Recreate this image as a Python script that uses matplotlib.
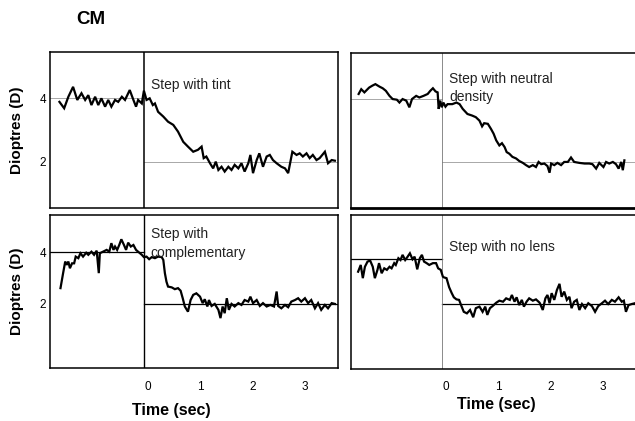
import matplotlib
matplotlib.use("Agg")
import matplotlib.pyplot as plt
from matplotlib.transforms import ScaledTranslation

plt.rcParams['font.family'] = ['Liberation Sans', 'DejaVu Sans']

# --- data (time in sec, accommodation in dioptres) ---
tint_t = [-1.61, -1.52, -1.44, -1.35, -1.27, -1.19, -1.12, -1.06, -1.00, -0.93, -0.87, -0.81, -0.74, -0.68,
          -0.62, -0.55, -0.49, -0.42, -0.36, -0.27, -0.20, -0.15, -0.11, -0.04, 0.00, 0.05, 0.11, 0.17, 0.21,
          0.27, 0.37, 0.46, 0.56, 0.65, 0.75, 0.84, 0.94, 1.03, 1.10, 1.14, 1.19, 1.26, 1.32, 1.37, 1.42, 1.48,
          1.54, 1.61, 1.67, 1.73, 1.80, 1.86, 1.92, 1.99, 2.03, 2.08, 2.15, 2.20, 2.27, 2.34, 2.40, 2.46, 2.53,
          2.62, 2.69, 2.75, 2.83, 2.91, 2.97, 3.03, 3.10, 3.16, 3.22, 3.29, 3.35, 3.45, 3.51, 3.58, 3.64]
tint_d = [3.88, 3.68, 4.04, 4.35, 3.94, 4.15, 3.94, 4.09, 3.78, 4.04, 3.78, 3.99, 3.73, 3.94, 3.73, 3.94, 3.88,
          4.04, 3.94, 4.25, 3.94, 3.73, 3.94, 3.83, 4.23, 3.94, 3.99, 3.78, 3.83, 3.57, 3.42, 3.26, 3.16, 2.95,
          2.63, 2.48, 2.32, 2.38, 2.48, 2.12, 2.17, 1.96, 1.80, 2.01, 1.75, 1.85, 1.70, 1.85, 1.75, 1.91, 1.80,
          1.96, 1.70, 1.96, 2.22, 1.65, 2.06, 2.27, 1.85, 2.17, 2.22, 2.06, 1.96, 1.85, 1.80, 1.65, 2.32, 2.22,
          2.27, 2.17, 2.27, 2.12, 2.22, 2.06, 2.12, 2.32, 1.96, 2.06, 2.04]

nd_t = [-1.60, -1.55, -1.49, -1.40, -1.34, -1.28, -1.20, -1.14, -1.08, -1.01, -0.95, -0.87, -0.82, -0.76,
        -0.69, -0.63, -0.58, -0.50, -0.44, -0.36, -0.28, -0.23, -0.18, -0.13, -0.09, -0.07, -0.04, -0.01, 0.02,
        0.06, 0.10, 0.19, 0.27, 0.33, 0.39, 0.48, 0.57, 0.64, 0.71, 0.76, 0.80, 0.87, 0.93, 0.98, 1.03, 1.09,
        1.14, 1.19, 1.23, 1.28, 1.34, 1.41, 1.47, 1.54, 1.60, 1.66, 1.73, 1.79, 1.84, 1.89, 1.95, 2.01, 2.05,
        2.08, 2.14, 2.20, 2.27, 2.33, 2.40, 2.46, 2.52, 2.62, 2.72, 2.81, 2.87, 2.94, 3.00, 3.08, 3.13, 3.19,
        3.26, 3.32, 3.37, 3.42, 3.45, 3.48]
nd_d = [4.15, 4.30, 4.20, 4.35, 4.41, 4.46, 4.38, 4.33, 4.25, 4.09, 3.99, 3.97, 3.88, 3.99, 3.94, 3.73, 3.99,
        4.09, 4.04, 4.09, 4.15, 4.25, 4.33, 4.23, 4.20, 3.68, 3.94, 3.73, 3.88, 3.75, 3.83, 3.83, 3.88, 3.83,
        3.68, 3.52, 3.47, 3.42, 3.31, 3.13, 3.23, 3.21, 3.05, 2.90, 2.69, 2.53, 2.60, 2.48, 2.32, 2.27, 2.17,
        2.12, 2.04, 1.98, 1.91, 1.85, 1.91, 1.85, 2.01, 1.94, 1.96, 1.88, 1.67, 1.96, 1.91, 1.98, 1.91, 2.01,
        2.01, 2.15, 2.01, 1.98, 1.96, 1.96, 1.94, 1.80, 1.98, 1.85, 2.01, 1.96, 2.01, 1.94, 1.80, 2.01, 1.75,
        2.06]

comp_t = [-1.59, -1.54, -1.50, -1.47, -1.44, -1.41, -1.37, -1.33, -1.30, -1.25, -1.21, -1.16, -1.10, -1.06,
          -1.00, -0.95, -0.90, -0.86, -0.84, -0.78, -0.71, -0.66, -0.62, -0.58, -0.55, -0.51, -0.47, -0.43,
          -0.38, -0.34, -0.30, -0.25, -0.20, -0.15, -0.11, -0.04, 0.00, 0.05, 0.10, 0.15, 0.21, 0.27, 0.34,
          0.37, 0.40, 0.43, 0.46, 0.53, 0.59, 0.65, 0.70, 0.74, 0.78, 0.84, 0.89, 0.94, 1.00, 1.07, 1.12, 1.16,
          1.21, 1.24, 1.29, 1.35, 1.42, 1.46, 1.50, 1.54, 1.58, 1.62, 1.67, 1.73, 1.80, 1.86, 1.92, 1.99, 2.03,
          2.08, 2.15, 2.21, 2.27, 2.34, 2.41, 2.48, 2.53, 2.56, 2.62, 2.69, 2.75, 2.81, 2.88, 2.94, 3.00, 3.07,
          3.13, 3.19, 3.26, 3.32, 3.38, 3.45, 3.51, 3.58, 3.64]
comp_d = [2.61, 3.19, 3.64, 3.51, 3.64, 3.38, 3.57, 3.57, 3.83, 3.77, 3.96, 3.83, 3.98, 3.90, 4.02, 3.90, 4.06,
          3.19, 3.96, 4.02, 4.09, 4.02, 4.35, 4.09, 4.22, 4.09, 4.28, 4.50, 4.28, 4.09, 4.37, 4.22, 4.28, 4.09,
          4.02, 3.90, 3.81, 3.83, 3.73, 3.81, 3.77, 3.83, 3.81, 3.70, 3.19, 2.86, 2.67, 2.64, 2.57, 2.61, 2.51,
          2.22, 1.90, 1.70, 2.15, 2.35, 2.41, 2.28, 2.03, 2.18, 1.90, 2.15, 1.92, 2.00, 1.77, 1.45, 1.90, 1.64,
          2.22, 1.77, 2.00, 1.90, 2.03, 1.96, 2.15, 2.09, 2.28, 2.03, 2.15, 1.92, 2.03, 1.90, 1.96, 1.90, 2.48,
          1.92, 1.83, 1.96, 1.87, 2.09, 2.15, 2.22, 2.09, 2.22, 2.03, 2.15, 1.83, 2.03, 1.77, 1.96, 1.83, 2.03,
          2.00]

nolens_t = [-1.61, -1.56, -1.52, -1.48, -1.43, -1.38, -1.33, -1.29, -1.24, -1.21, -1.16, -1.11, -1.06, -1.01,
            -0.97, -0.92, -0.89, -0.84, -0.80, -0.76, -0.71, -0.67, -0.62, -0.57, -0.53, -0.48, -0.43, -0.39,
            -0.35, -0.30, -0.25, -0.18, -0.12, -0.08, -0.03, 0.01, 0.03, 0.08, 0.13, 0.18, 0.22, 0.27, 0.32,
            0.37, 0.41, 0.47, 0.53, 0.59, 0.64, 0.71, 0.77, 0.82, 0.86, 0.91, 0.96, 1.03, 1.09, 1.16, 1.22,
            1.29, 1.33, 1.38, 1.42, 1.47, 1.52, 1.56, 1.61, 1.66, 1.73, 1.79, 1.86, 1.92, 1.97, 2.01, 2.05,
            2.09, 2.14, 2.19, 2.24, 2.28, 2.33, 2.38, 2.43, 2.47, 2.52, 2.57, 2.62, 2.67, 2.73, 2.79, 2.86,
            2.92, 2.98, 3.05, 3.11, 3.17, 3.24, 3.30, 3.37, 3.43, 3.47, 3.51, 3.56, 3.62, 3.68]
nolens_d = [3.26, 3.52, 3.01, 3.45, 3.65, 3.69, 3.45, 3.01, 3.33, 3.59, 3.20, 3.39, 3.33, 3.45, 3.39, 3.59,
            3.52, 3.78, 3.71, 3.91, 3.71, 3.82, 3.97, 3.74, 3.84, 3.35, 3.78, 3.91, 3.65, 3.59, 3.52, 3.59,
            3.59, 3.39, 3.33, 3.07, 3.04, 3.01, 2.66, 2.43, 2.27, 2.19, 2.17, 1.91, 1.71, 1.65, 1.78, 1.50,
            1.85, 1.91, 1.71, 1.91, 1.59, 1.85, 1.93, 2.06, 2.14, 2.10, 2.23, 2.17, 2.36, 2.10, 2.27, 1.97,
            2.17, 1.91, 2.10, 2.23, 2.14, 2.19, 2.06, 1.78, 2.23, 2.36, 2.04, 2.43, 2.17, 2.55, 2.79, 2.29,
            2.49, 2.17, 2.29, 1.85, 2.10, 2.17, 1.78, 2.01, 1.85, 2.04, 1.93, 1.71, 1.93, 2.04, 2.14, 2.01,
            2.17, 2.10, 2.27, 2.10, 2.14, 1.71, 1.97, 2.01, 2.04]

# stimulus levels before / after the step
levels = {'tint': (4.0, 2.0), 'nd': (4.0, 2.0), 'comp': (4.0, 2.0), 'nolens': (3.75, 2.0)}
labels = {'tint': 'Step with tint', 'nd': 'Step with neutral\ndensity',
          'comp': 'Step with\ncomplementary', 'nolens': 'Step with no lens'}
time_ticks = [0, 1, 2, 3]
dioptre_ticks = [2, 4]

W, H = 635, 421
fig = plt.figure(figsize=(W / 100, H / 100), dpi=100)


def px_axes(x0, x1, y0, y1):
    # axes from pixel box (top-left origin)
    return fig.add_axes([x0 / W, 1 - y1 / H, (x1 - x0) / W, (y1 - y0) / H])


def draw_panel(ax, t, d, key, ref_color, ref_lw, vcolor, vlw, text_y):
    xmin, xmax = ax.get_xlim()
    pre, post = levels[key]
    ax.plot([xmin, 0], [pre, pre], color=ref_color, lw=ref_lw, zorder=1)
    ax.plot([0, xmax], [post, post], color=ref_color, lw=ref_lw, zorder=1)
    ax.axvline(0, color=vcolor, lw=vlw, zorder=1)
    ax.plot(t, d, color='black', lw=1.6, zorder=3, solid_joinstyle='miter')
    ax.text(0.13, text_y, labels[key], fontsize=10, va='top', ha='left', color='#222222',
            linespacing=1.4)
    ax.tick_params(length=0)
    for sp in ax.spines.values():
        sp.set_linewidth(1.1)
    ax.set_xticks([])
    ax.set_yticks([])


ax_tl = px_axes(50, 338, 52, 208)
ax_tr = px_axes(351, 650, 53, 208)
ax_bl = px_axes(50, 338, 215, 368)
ax_br = px_axes(351, 650, 215, 369)

ax_tl.set_xlim(-1.79, 3.70)
ax_bl.set_xlim(-1.79, 3.70)
ax_tr.set_xlim(-1.746, 3.97)
ax_br.set_xlim(-1.746, 3.97)
ax_tl.set_ylim(0.56, 5.44)
ax_tr.set_ylim(0.56, 5.44)
ax_bl.set_ylim(-0.48, 5.44)
ax_br.set_ylim(-0.50, 5.45)

draw_panel(ax_tl, tint_t, tint_d, 'tint', '#9a9a9a', 0.6, 'black', 1.1, 4.64)
draw_panel(ax_tr, nd_t, nd_d, 'nd', '#9a9a9a', 0.6, '#777777', 0.6, 4.84)
draw_panel(ax_bl, comp_t, comp_d, 'comp', 'black', 0.9, 'black', 1.0, 4.97)
draw_panel(ax_br, nolens_t, nolens_d, 'nolens', 'black', 0.9, '#777777', 0.6, 4.49)
ax_tr.spines['bottom'].set_linewidth(2.0)

# y tick labels on the left column
for ax in (ax_tl, ax_bl):
    ax.set_yticks(dioptre_ticks)
    ax.set_yticklabels([str(v) for v in dioptre_ticks], fontsize=8.5)
    ax.tick_params(axis='y', length=0, pad=3)
    ax.set_ylabel('Dioptres (D)', fontsize=11, fontweight='bold', labelpad=11)

# time ticks on the bottom row, labels nudged a little right like the original
for ax in (ax_bl, ax_br):
    ax.set_xticks(time_ticks)
    ax.set_xticklabels([str(v) for v in time_ticks], fontsize=8.5)
    ax.tick_params(axis='x', length=0, pad=9)
    for lab in ax.get_xticklabels():
        lab.set_transform(lab.get_transform() + ScaledTranslation(0.035, 0, fig.dpi_scale_trans))

fig.text(171.7 / W, 1 - 410.7 / H, 'Time (sec)', fontsize=11.5, fontweight='bold', ha='center', va='center')
fig.text(496.3 / W, 1 - 405 / H, 'Time (sec)', fontsize=11.5, fontweight='bold', ha='center', va='center')
fig.text(91 / W, 1 - 20 / H, 'CM', fontsize=13.5, fontweight='bold', ha='center', va='center')

fig.savefig('out.png', dpi=100)
